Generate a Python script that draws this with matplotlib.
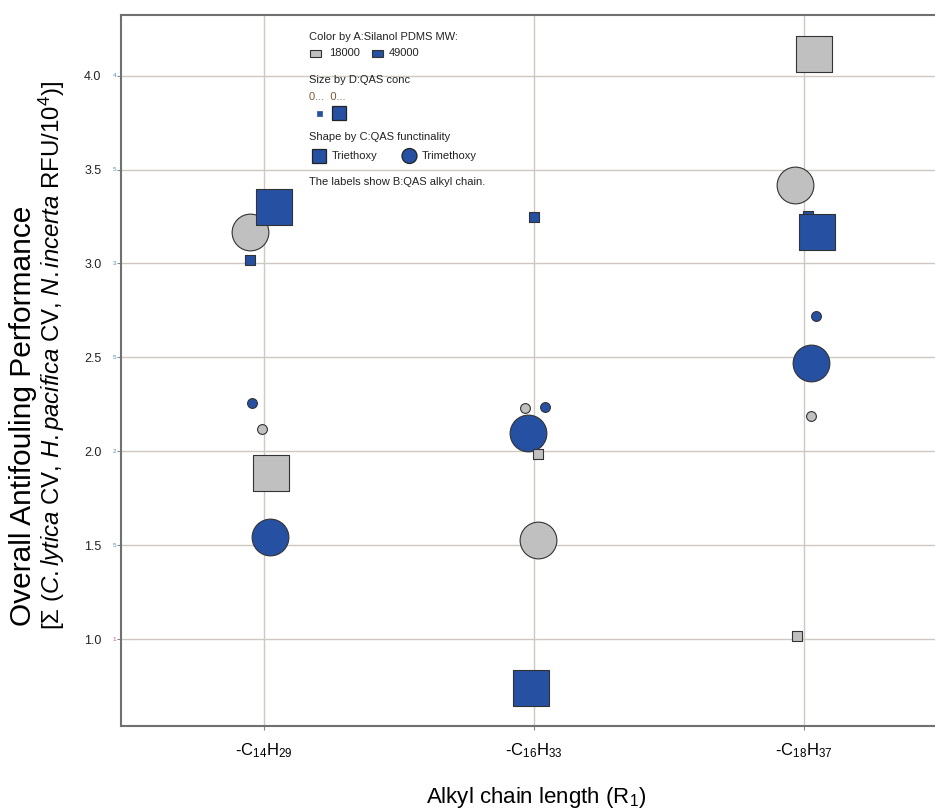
#import necessary modules
import numpy as np
import matplotlib
matplotlib.use('Agg')
import matplotlib.pyplot as plt
from matplotlib.patches import Rectangle, Circle
from matplotlib.transforms import blended_transform_factory

plt.rcParams['font.family'] = 'Liberation Sans'
plt.rcParams['mathtext.fontset'] = 'custom'
plt.rcParams['mathtext.rm'] = 'Liberation Sans'
plt.rcParams['mathtext.it'] = 'Liberation Sans:italic'

#categories on the x axis (B: QAS alkyl chain)
chains = ['-C$_{14}$H$_{29}$', '-C$_{16}$H$_{33}$', '-C$_{18}$H$_{37}$']

#one entry per run, in drawing order
chain_idx     = [0, 0, 0, 0, 0, 0, 0,
                 1, 1, 1, 1, 1, 1, 1,
                 2, 2, 2, 2, 2, 2, 2, 2]
pdms_mw       = [18000, 49000, 49000, 49000, 18000, 18000, 49000,
                 49000, 18000, 49000, 49000, 18000, 18000, 49000,
                 18000, 18000, 49000, 49000, 49000, 49000, 18000, 18000]
qas_conc      = ['high', 'high', 'low', 'low', 'low', 'high', 'high',
                 'low', 'low', 'low', 'high', 'low', 'high', 'high',
                 'high', 'high', 'low', 'high', 'low', 'high', 'low', 'low']
functionality = ['Trimethoxy', 'Triethoxy', 'Triethoxy', 'Trimethoxy', 'Trimethoxy', 'Triethoxy', 'Trimethoxy',
                 'Triethoxy', 'Trimethoxy', 'Trimethoxy', 'Trimethoxy', 'Triethoxy', 'Trimethoxy', 'Triethoxy',
                 'Triethoxy', 'Trimethoxy', 'Triethoxy', 'Triethoxy', 'Trimethoxy', 'Trimethoxy', 'Trimethoxy', 'Triethoxy']
performance   = [3.165, 3.30, 3.02, 2.255, 2.12, 1.885, 1.545,
                 3.245, 2.232, 2.237, 2.096, 1.987, 1.528, 0.739,
                 4.115, 3.42, 3.255, 3.17, 2.72, 2.47, 2.186, 1.016]
#horizontal jitter of the points around each category
jitter        = [-0.052, 0.037, -0.052, -0.044, -0.007, 0.026, 0.022,
                 0.0, -0.033, 0.041, -0.022, 0.015, 0.015, -0.011,
                 0.037, -0.033, 0.015, 0.048, 0.044, 0.026, 0.026, -0.026]

yticks = [1.0, 1.5, 2.0, 2.5, 3.0, 3.5, 4.0]

colors  = {18000: '#c0c0c0', 49000: '#2650a2'}
markers = {'Triethoxy': 's', 'Trimethoxy': 'o'}
sizes   = {'low': 50, 'high': 700}

W, H = 935, 811
fig = plt.figure(figsize=(W / 100, H / 100), dpi=100)
ax = fig.add_axes([121 / W, 1 - 726 / H, (940 - 121) / W, (726 - 15) / H])

for i in range(len(performance)):
    ax.scatter(chain_idx[i] + jitter[i], performance[i],
               s=sizes[qas_conc[i]], marker=markers[functionality[i]],
               color=colors[pdms_mw[i]], edgecolors='#333333', linewidths=0.8,
               zorder=3)

ax.set_xlim(-0.53, 2.503)
ax.set_ylim(0.537, 4.323)
ax.set_xticks(range(len(chains)))
ax.set_xticklabels(chains, fontsize=12)
ax.set_yticks(yticks)
ax.set_yticklabels(['%.1f' % v for v in yticks], fontsize=9, color='#222222')
ax.tick_params(axis='x', length=3, color='#888888', pad=8)
ax.tick_params(axis='y', length=3, color='#888888', pad=11)
ax.grid(True, color='#cdc9c1', lw=1.0, zorder=0)
ax.set_axisbelow(True)
for sp in ax.spines.values():
    sp.set_color('#707070')
    sp.set_linewidth(1.5)

#tiny ghost labels next to the axis
tr = blended_transform_factory(fig.transFigure, ax.transData)
for v in yticks:
    s = '%.1f' % v
    lab = s[-1] if s[-1] != '0' else s[0]
    col = '#c05aa0' if v == 1.0 else '#4a8fc0'
    ax.text(114.5 / W, v, lab, transform=tr, fontsize=4.5, color=col,
            ha='center', va='center')

#axis titles
fig.text(536 / W, 1 - 798 / H, 'Alkyl chain length (R$_1$)', fontsize=16,
         ha='center', va='center')
fig.text(23 / W, 1 - 626 / H, 'Overall Antifouling Performance', fontsize=21.5,
         rotation=90, ha='center', va='bottom')
fig.text(52 / W, 1 - 630 / H,
         '[Σ ($\\mathit{C.lytica}$ CV, $\\mathit{H.pacifica}$ CV, $\\mathit{N.incerta}$ RFU/10$^4$)]',
         fontsize=17.3, rotation=90, ha='center', va='bottom')

#legend box, laid out in pixels
lx0, ly0, lw, lh = 305, 26, 208, 168
leg = fig.add_axes([lx0 / W, 1 - (ly0 + lh) / H, lw / W, lh / H])
leg.set_xlim(lx0, lx0 + lw)
leg.set_ylim(ly0 + lh, ly0)
leg.axis('off')
leg.patch.set_visible(True)
leg.patch.set_facecolor('white')
leg.set_zorder(5)
fs = 8
tc = '#222222'
leg.text(309, 37, 'Color by A:Silanol PDMS MW:', fontsize=fs, color=tc, va='center')
leg.add_patch(Rectangle((310, 50), 11, 7, facecolor=colors[18000], edgecolor='#333333', lw=0.8))
leg.text(329, 53.5, '18000', fontsize=fs, color=tc, va='center')
leg.add_patch(Rectangle((372, 50), 11, 7, facecolor=colors[49000], edgecolor='#333333', lw=0.8))
leg.text(389, 53.5, '49000', fontsize=fs, color=tc, va='center')
leg.text(309, 80, 'Size by D:QAS conc', fontsize=fs, color=tc, va='center')
leg.text(309, 97, '0...  0...', fontsize=fs, color='#7a5a3a', va='center')
leg.add_patch(Rectangle((316.5, 110.5), 5, 5, facecolor=colors[49000], edgecolor=colors[49000], lw=0.5))
leg.add_patch(Rectangle((332, 106), 14, 14, facecolor=colors[49000], edgecolor='#222222', lw=0.9))
leg.text(309, 137, 'Shape by C:QAS functinality', fontsize=fs, color=tc, va='center')
leg.add_patch(Rectangle((312, 149), 14, 14, facecolor=colors[49000], edgecolor='#222222', lw=0.9))
leg.text(332, 156, 'Triethoxy', fontsize=fs, color=tc, va='center')
leg.add_patch(Circle((409.5, 156), 7.5, facecolor=colors[49000], edgecolor='#222222', lw=0.9))
leg.text(422, 156, 'Trimethoxy', fontsize=fs, color=tc, va='center')
leg.text(309, 182, 'The labels show B:QAS alkyl chain.', fontsize=fs, color=tc, va='center')

plt.savefig('out.png', dpi=100)
